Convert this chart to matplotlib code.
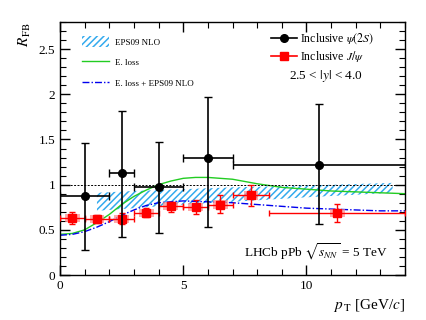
"""LHCb pPb forward-backward ratio R_FB vs pT for psi(2S) and J/psi."""

import matplotlib
matplotlib.use("Agg")
import matplotlib.pyplot as plt
import numpy as np
from matplotlib.patches import Patch, Rectangle
from matplotlib.lines import Line2D
from matplotlib.ticker import MultipleLocator

plt.rcParams["font.family"] = ["Liberation Serif", "DejaVu Serif"]
plt.rcParams["mathtext.fontset"] = "stix"
plt.rcParams["hatch.color"] = "#33aaee"
plt.rcParams["hatch.linewidth"] = 1.1

# Inclusive psi(2S)
psi_x = [1.0, 2.5, 4.0, 6.0, 10.5]
psi_xlo = [0.0, 2.0, 3.0, 5.0, 7.0]
psi_xhi = [2.0, 3.0, 5.0, 7.0, 14.0]
psi_y = [0.87, 1.13, 0.97, 1.29, 1.22]
psi_ylo = [0.28, 0.42, 0.47, 0.53, 0.56]
psi_yhi = [1.46, 1.82, 1.47, 1.97, 1.89]

# Inclusive J/psi
jpsi_x = [0.5, 1.5, 2.5, 3.5, 4.5, 5.5, 6.5, 7.75, 11.25]
jpsi_xlo = [0.0, 1.0, 2.0, 3.0, 4.0, 5.0, 6.0, 7.0, 8.5]
jpsi_xhi = [1.0, 2.0, 3.0, 4.0, 5.0, 6.0, 7.0, 8.5, 14.0]
jpsi_y = [0.63, 0.62, 0.62, 0.69, 0.76, 0.75, 0.78, 0.88, 0.69]
jpsi_ylo = [0.57, 0.58, 0.56, 0.64, 0.70, 0.67, 0.69, 0.76, 0.59]
jpsi_yhi = [0.70, 0.66, 0.69, 0.74, 0.81, 0.83, 0.88, 1.00, 0.79]

# EPS09 NLO band
eps_x = [1.5, 3.0, 5.0, 7.0, 10.0, 13.5]
eps_lo = [0.71, 0.74, 0.78, 0.81, 0.86, 0.91]
eps_hi = [0.91, 0.93, 0.95, 0.97, 0.99, 1.02]

# E. loss
eloss_x = [0, 0.5, 1, 1.5, 2, 2.5, 3, 3.5, 4, 4.5, 5, 5.5, 6, 7, 8, 9, 10, 11, 12, 13, 14]
eloss_y = [0.45, 0.46, 0.50, 0.58, 0.67, 0.78, 0.87, 0.94, 1.00, 1.04, 1.07, 1.08,
           1.08, 1.06, 1.01, 0.97, 0.95, 0.93, 0.92, 0.91, 0.90]

# E. loss + EPS09 NLO
comb_x = [0, 0.5, 1, 1.5, 2, 2.5, 3, 3.5, 4, 5, 6, 7, 8, 9, 10, 11, 12, 13, 14]
comb_y = [0.44, 0.45, 0.48, 0.53, 0.59, 0.66, 0.72, 0.77, 0.80, 0.82, 0.81, 0.80,
          0.78, 0.76, 0.74, 0.73, 0.72, 0.71, 0.71]

fig = plt.figure(figsize=(4.27, 3.2), dpi=100)
ax = fig.add_axes([0.1405, 0.1406, 0.808, 0.7906])

ax.fill_between(eps_x, eps_lo, eps_hi, facecolor="none", edgecolor="#33aaee",
                hatch="/////", linewidth=0)
ax.plot(eloss_x, eloss_y, color="#22cc22", lw=1.0)
ax.plot(comb_x, comb_y, color="#0000ee", lw=1.0, ls=(0, (5, 1.5, 1, 1.5)))
ax.axhline(1.0, color="k", lw=0.7, ls=(0, (2, 1.5)))

# J/psi systematic boxes
jx = np.array(jpsi_x)
jy = np.array(jpsi_y)
for xi, yi in zip(jx, jy):
    ax.add_patch(Rectangle((xi - 0.3, yi - 0.045), 0.6, 0.09, facecolor="#ff8888",
                           edgecolor="none", alpha=0.7, zorder=3))

ax.errorbar(jx, jy,
            xerr=[jx - np.array(jpsi_xlo), np.array(jpsi_xhi) - jx],
            yerr=[jy - np.array(jpsi_ylo), np.array(jpsi_yhi) - jy],
            fmt="s", color="#ff0000", ms=5.5, lw=1.0, capsize=2.5, zorder=4)

px = np.array(psi_x)
py = np.array(psi_y)
ax.errorbar(px, py,
            xerr=[px - np.array(psi_xlo), np.array(psi_xhi) - px],
            yerr=[py - np.array(psi_ylo), np.array(psi_yhi) - py],
            fmt="o", color="k", ms=5.5, lw=1.2, capsize=3, zorder=5)

ax.set_xlim(0, 14)
ax.set_ylim(0, 2.8)
ax.xaxis.set_major_locator(MultipleLocator(5))
ax.xaxis.set_minor_locator(MultipleLocator(1))
ax.yaxis.set_major_locator(MultipleLocator(0.5))
ax.yaxis.set_minor_locator(MultipleLocator(0.1))
ax.set_xticks([0, 5, 10])
ax.set_xticklabels(["0", "5", "10"])
ax.set_yticks([0, 0.5, 1, 1.5, 2, 2.5])
ax.set_yticklabels(["0", "0.5", "1", "1.5", "2", "2.5"])
ax.tick_params(which="both", direction="in", top=True, right=True, labelsize=9.5)
ax.tick_params(which="major", length=7, width=1.0)
ax.tick_params(which="minor", length=4, width=0.8)
for s in ax.spines.values():
    s.set_linewidth(1.0)

ax.set_xlabel(r"$p_{\,\mathrm{T}}$ [GeV/$c$]", fontsize=11, loc="right")
ax.set_ylabel(r"$R_{\,\mathrm{FB}}$", fontsize=11, loc="top")

h1 = Patch(facecolor="none", edgecolor="#33aaee", hatch="/////", linewidth=0)
h2 = Line2D([], [], color="#22cc22", lw=1.0)
h3 = Line2D([], [], color="#0000ee", lw=1.0, ls=(0, (5, 1.5, 1, 1.5)))
leg1 = ax.legend([h1, h2, h3], ["EPS09 NLO", "E. loss", "E. loss + EPS09 NLO"],
                 loc="upper left", bbox_to_anchor=(0.04, 0.975), frameon=False,
                 fontsize=6.5, labelspacing=1.15, handlelength=3.0, handleheight=1.4,
                 handletextpad=0.7)
ax.add_artist(leg1)

h4 = Line2D([], [], color="k", marker="o", ms=5.5, lw=1.2)
h5 = Line2D([], [], color="#ff0000", marker="s", ms=5.5, lw=1.2)
ax.legend([h4, h5], [r"Inclusive $\psi(2S)$", r"Inclusive $J/\psi$"],
          loc="upper left", bbox_to_anchor=(0.58, 1.005), frameon=False,
          fontsize=8.5, labelspacing=0.25, handlelength=2.2, handletextpad=0.3)

ax.text(0.77, 0.785, r"2.5 < $|y|$ < 4.0", transform=ax.transAxes, fontsize=9.5,
        ha="center", va="center")
ax.text(0.74, 0.09, r"LHCb pPb $\sqrt{s_{NN}}$ = 5 TeV", transform=ax.transAxes,
        fontsize=9.5, ha="center", va="center")

fig.savefig("out.png", dpi=100)
